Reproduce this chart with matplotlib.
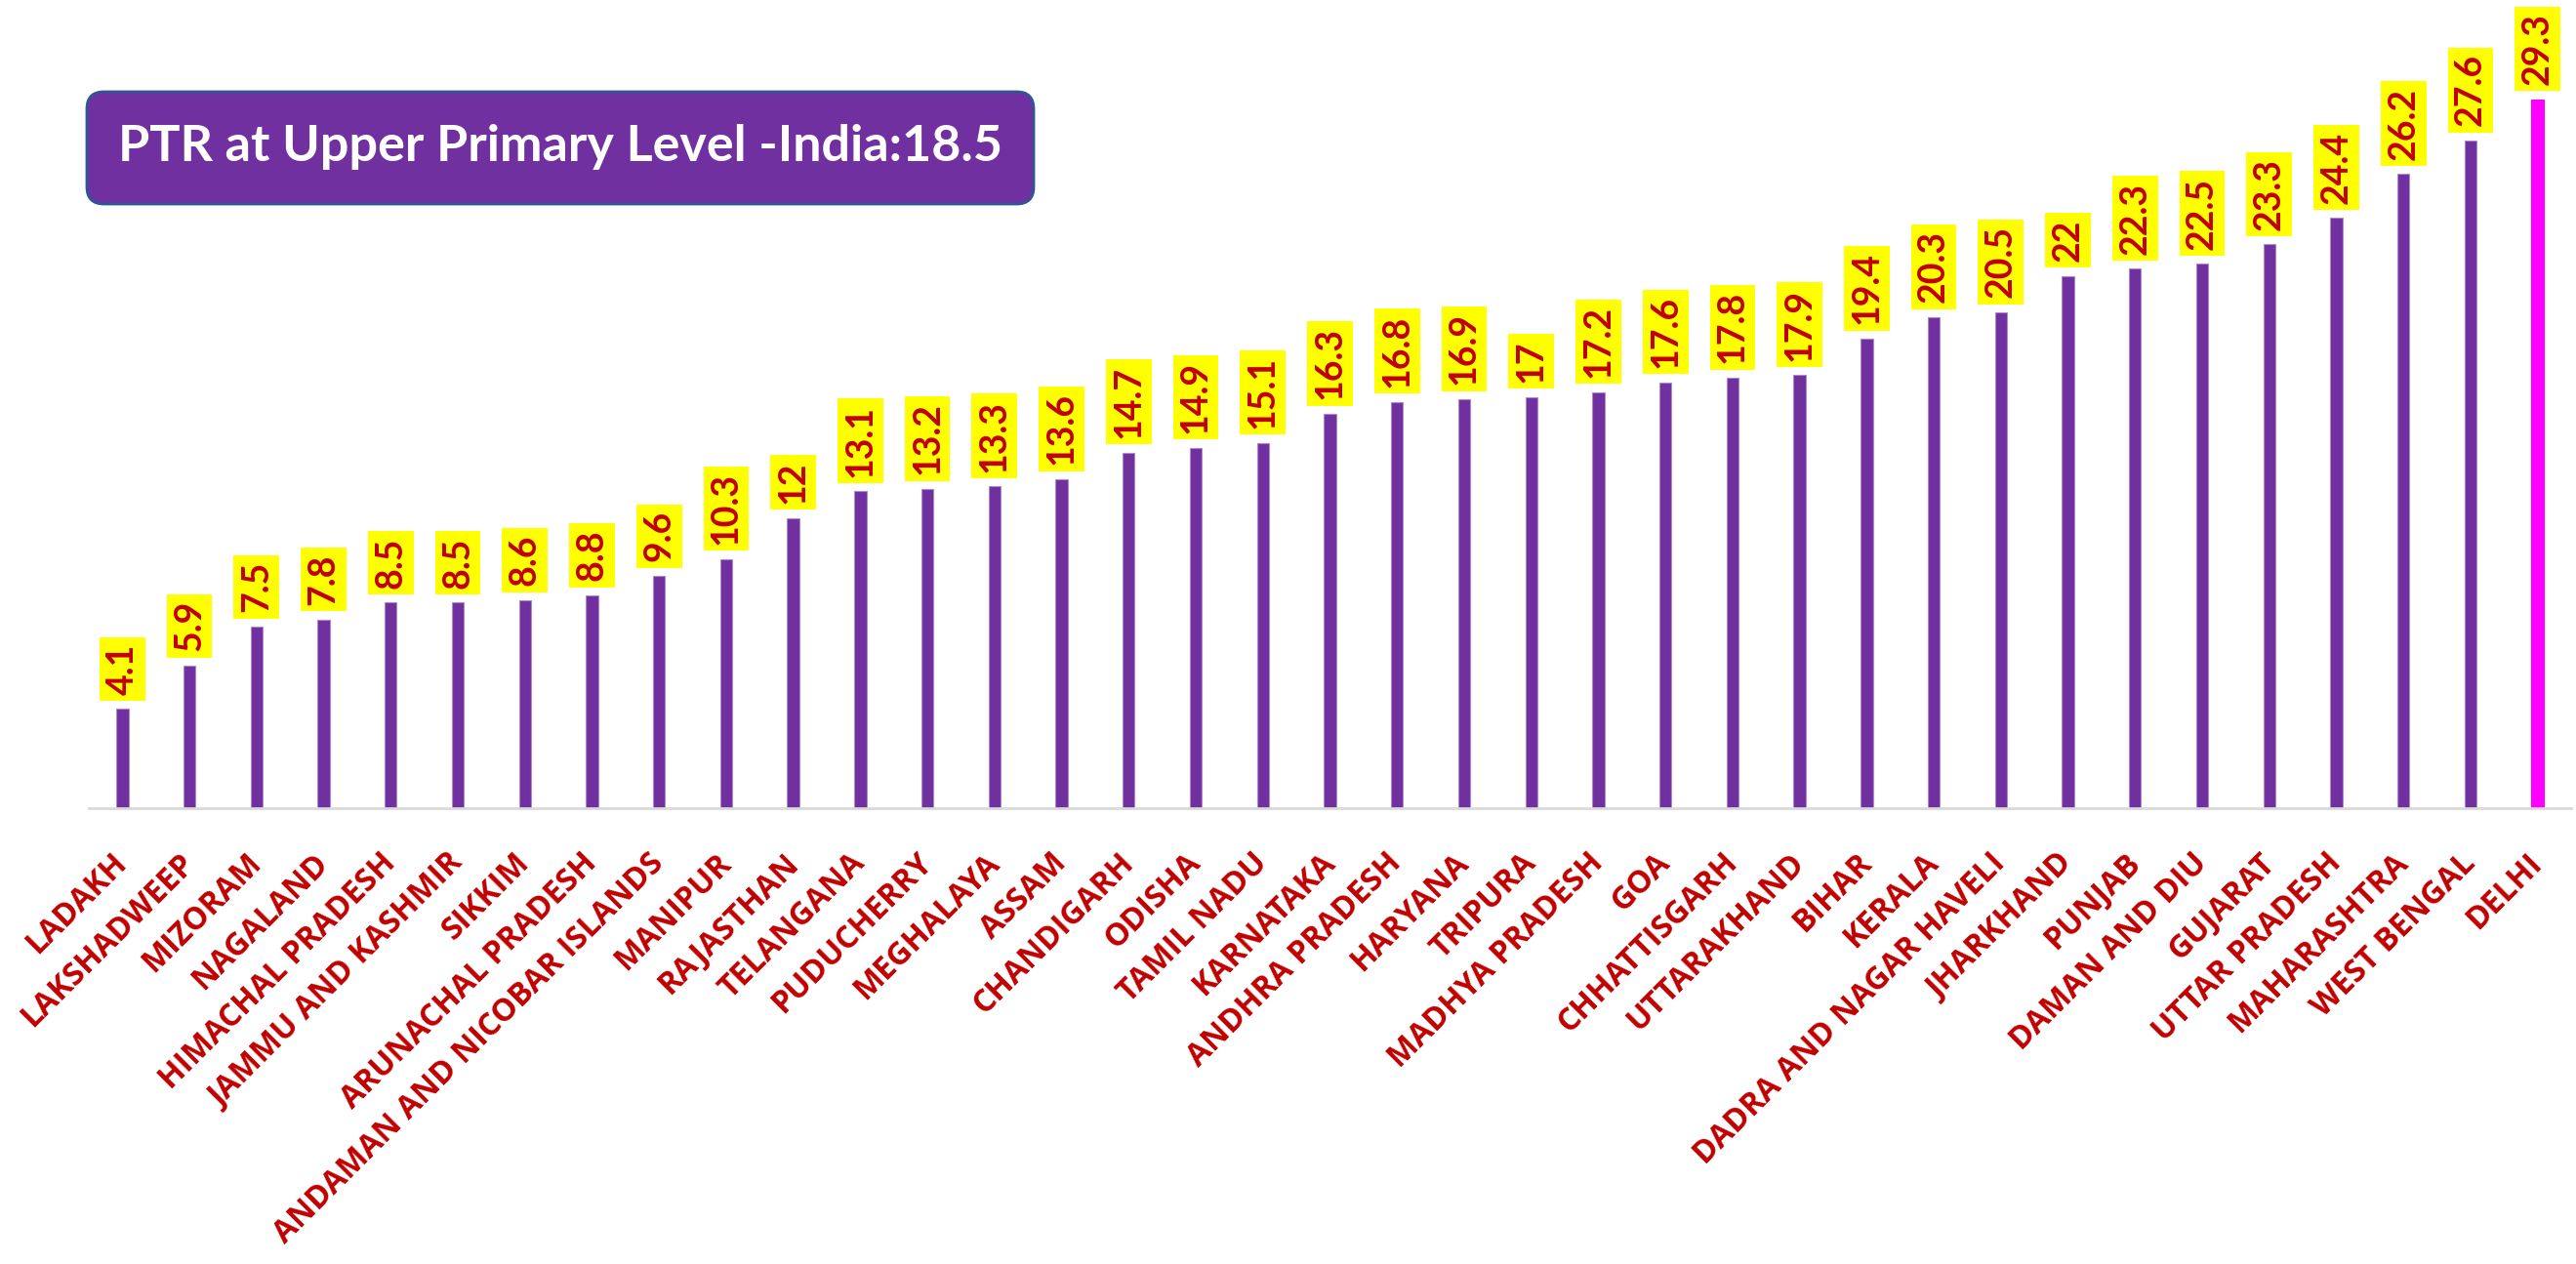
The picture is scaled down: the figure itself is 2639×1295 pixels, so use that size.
import numpy as np
import matplotlib.pyplot as plt
from matplotlib.patches import FancyBboxPatch

# PTR at upper primary level, by state / UT
states = ['LADAKH', 'LAKSHADWEEP', 'MIZORAM', 'NAGALAND', 'HIMACHAL PRADESH',
          'JAMMU AND KASHMIR', 'SIKKIM', 'ARUNACHAL PRADESH',
          'ANDAMAN AND NICOBAR ISLANDS', 'MANIPUR', 'RAJASTHAN', 'TELANGANA',
          'PUDUCHERRY', 'MEGHALAYA', 'ASSAM', 'CHANDIGARH', 'ODISHA',
          'TAMIL NADU', 'KARNATAKA', 'ANDHRA PRADESH', 'HARYANA', 'TRIPURA',
          'MADHYA PRADESH', 'GOA', 'CHHATTISGARH', 'UTTARAKHAND', 'BIHAR',
          'KERALA', 'DADRA AND NAGAR HAVELI', 'JHARKHAND', 'PUNJAB',
          'DAMAN AND DIU', 'GUJARAT', 'UTTAR PRADESH', 'MAHARASHTRA',
          'WEST BENGAL', 'DELHI']
ptr = [4.1, 5.9, 7.5, 7.8, 8.5, 8.5, 8.6, 8.8, 9.6, 10.3, 12, 13.1, 13.2, 13.3,
       13.6, 14.7, 14.9, 15.1, 16.3, 16.8, 16.9, 17, 17.2, 17.6, 17.8, 17.9,
       19.4, 20.3, 20.5, 22, 22.3, 22.5, 23.3, 24.4, 26.2, 27.6, 29.3]
highlight = 'DELHI'
india_ptr = 18.5

W, H, DPI = 2639, 1295, 100
fig = plt.figure(figsize=(W / DPI, H / DPI), dpi=DPI)
# axes placed in pixels: x 91..2634, baseline at y=828 from top
ax = fig.add_axes([91 / W, (H - 828) / H, (2634 - 91) / W, 828 / H])

x = np.arange(len(states))
colors = ['#FF00FF' if s == highlight else '#7030A0' for s in states]
edges = ['#FF00FF' if s == highlight else '#A98BCB' for s in states]
ax.bar(x, ptr, width=0.18, color=colors, edgecolor=edges, linewidth=0.8, zorder=2)

ax.set_xlim(-0.5, len(states) - 0.5)
ax.set_ylim(0, 33.4)

# value labels: rotated, red on yellow
for i, v in enumerate(ptr):
    ax.annotate(f'{v:g}', (i, v), xytext=(0, 10.5), textcoords='offset points',
                rotation=90, ha='center', va='bottom', fontsize=27,
                fontfamily='Lato', fontweight='bold', color='#C00000',
                bbox=dict(boxstyle='square,pad=0.17', fc='#FFFF00', ec='none'),
                annotation_clip=False)

for s in ['top', 'right', 'left']:
    ax.spines[s].set_visible(False)
ax.spines['bottom'].set_color('#D9D9D9')
ax.spines['bottom'].set_linewidth(2)
ax.set_yticks([])
ax.set_xticks(x)
ax.set_xticklabels(states, rotation=45, ha='right', va='center',
                   rotation_mode='anchor', fontsize=23, fontfamily='Open Sans',
                   fontweight='bold', color='#C00000')
ax.tick_params(axis='x', length=0, pad=37)

# title box
bx0, by0, bx1, by1 = 89, 94, 1059, 209
box = FancyBboxPatch((bx0 / W, (H - by1) / H), (bx1 - bx0) / W, (by1 - by0) / H,
                     boxstyle='round,pad=0,rounding_size=0.0066',
                     mutation_aspect=W / H, transform=fig.transFigure,
                     fc='#7030A0', ec='#2F5597', lw=2)
fig.patches.append(box)
fig.text((bx0 + bx1) / 2 / W, (H - 151) / H, f'PTR at Upper Primary Level -India:{india_ptr}',
         ha='center', va='center', fontsize=37.5, fontfamily='Lato',
         fontweight='bold', color='white')

fig.savefig('out.png', dpi=DPI)
